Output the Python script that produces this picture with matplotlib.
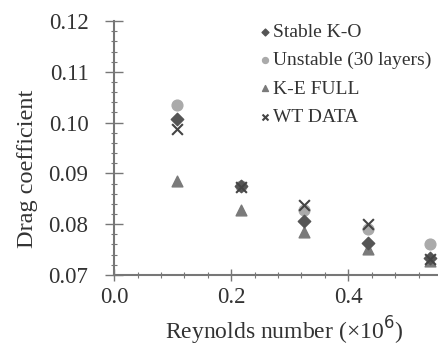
import matplotlib.pyplot as plt
from matplotlib.ticker import MultipleLocator

plt.rcParams["font.family"] = ["Liberation Serif", "DejaVu Serif"]

re_num = [0.108, 0.216, 0.325, 0.433, 0.54]
stable_ko = [0.1007, 0.0875, 0.0806, 0.0763, 0.0733]
unstable_30 = [0.1035, 0.0876, 0.0828, 0.0791, 0.0761]
ke_full = [0.0885, 0.0828, 0.0784, 0.0752, 0.0727]
wt_data = [0.0988, 0.0874, 0.0838, 0.0801, 0.0731]

fig = plt.figure(figsize=(4.39, 3.45), dpi=100)
ax = fig.add_axes([0.26, 0.203, 0.74, 0.736])

ax.scatter(re_num, unstable_30, marker="o", s=60, color="#aaaaaa", label="Unstable (30 layers)", zorder=2)
ax.scatter(re_num, ke_full, marker="^", s=60, color="#7a7a7a", label="K-E FULL", zorder=3)
ax.scatter(re_num, stable_ko, marker="D", s=40, color="#555555", label="Stable K-O", zorder=4)
ax.scatter(re_num, wt_data, marker="x", s=60, color="#444444", linewidths=1.5, label="WT DATA", zorder=5)

ax.set_xlim(0, 0.555)
ax.set_ylim(0.07, 0.12)
ax.xaxis.set_major_locator(MultipleLocator(0.2))
ax.xaxis.set_minor_locator(MultipleLocator(0.04))
ax.yaxis.set_major_locator(MultipleLocator(0.01))
ax.yaxis.set_minor_locator(MultipleLocator(0.002))
ax.xaxis.set_major_formatter(lambda v, p: f"{v:.1f}")
ax.yaxis.set_major_formatter(lambda v, p: f"{v:.2f}")

for s in ["top", "right"]:
    ax.spines[s].set_visible(False)
for s in ["left", "bottom"]:
    ax.spines[s].set_color("#777777")
    ax.spines[s].set_linewidth(1.5)
ax.tick_params(which="major", direction="inout", width=1, color="#777777",
               labelsize=16.5, labelcolor="#333333")
ax.tick_params(which="minor", direction="inout", length=4, width=0.8, color="#777777")
ax.tick_params(axis="x", which="major", length=8, pad=5)
ax.tick_params(axis="y", which="major", length=13, pad=12)

ax.set_xlabel("Reynolds number (\u00d710$^6$)", fontsize=17, color="#333333")
ax.set_ylabel("Drag coefficient", fontsize=17.5, color="#333333")
ax.xaxis.set_label_coords(0.525, -0.155)
ax.yaxis.set_label_coords(-0.235, 0.417)

handles, labels = ax.get_legend_handles_labels()
order = [2, 0, 1, 3]
ax.legend([handles[i] for i in order], [labels[i] for i in order],
          loc="upper right", bbox_to_anchor=(1.03, 1.06), frameon=False,
          fontsize=14, handlelength=0.5, handletextpad=0.15,
          labelspacing=0.55, markerscale=0.55, labelcolor="#333333")

plt.savefig("out.png", dpi=100)
